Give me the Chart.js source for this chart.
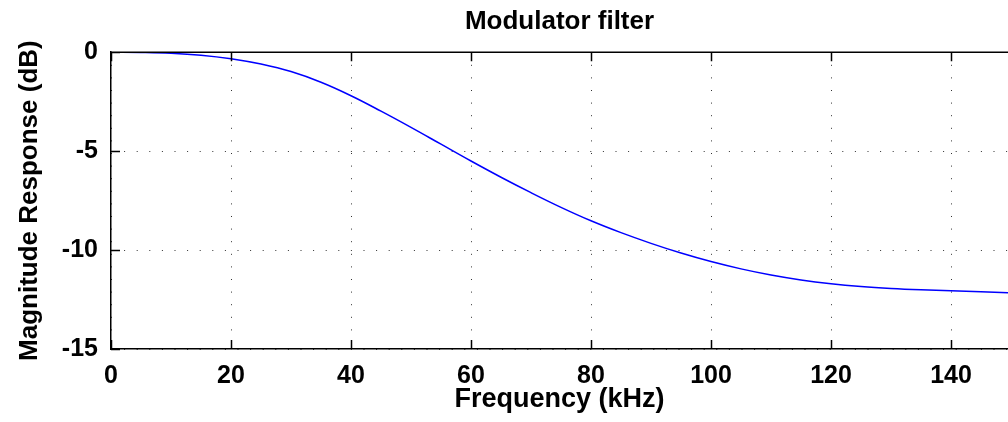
<!DOCTYPE html>
<html>
<head>
<meta charset="utf-8">
<script src="https://cdn.jsdelivr.net/npm/chart.js@4/dist/chart.umd.min.js"></script>
<style>
  html, body { margin: 0; padding: 0; background: #fff; }
  #wrap { width: 1008px; height: 422px; }
</style>
</head>
<body>
<div id="wrap"><canvas id="myChart" width="1008" height="422"></canvas></div>
<script>
// Data
const freqKHz = [0, 5, 10, 15, 20, 25, 30, 35, 40, 45, 50, 55, 60, 65, 70, 75, 80, 85, 90, 95, 100, 105, 110, 115, 120, 125, 130, 135, 140, 145, 149.5];
const magDB = [0, -0.01, -0.05, -0.15, -0.33, -0.6, -0.98, -1.52, -2.2, -2.98, -3.8, -4.65, -5.5, -6.32, -7.1, -7.84, -8.52, -9.12, -9.66, -10.15, -10.58, -10.95, -11.26, -11.51, -11.7, -11.84, -11.94, -12.01, -12.06, -12.11, -12.16];

// tick labels
const xTicks = [0, 20, 40, 60, 80, 100, 120, 140];
const yTicks = [-15, -10, -5, 0];

const fontFamily = '"Liberation Sans", Arial, Helvetica, sans-serif';

// MATLAB style box: top edge + inward tick marks
const matlabAxes = {
  id: 'matlabAxes',
  afterDatasetsDraw(chart) {
    const ctx = chart.ctx;
    const a = chart.chartArea;
    const xs = chart.scales.x, ys = chart.scales.y;
    const len = 9;
    ctx.save();
    ctx.strokeStyle = '#000';
    ctx.lineWidth = 1.5;
    ctx.beginPath();
    ctx.moveTo(a.left, a.top);
    ctx.lineTo(a.right, a.top);
    xTicks.forEach(function (v) {
      const px = Math.round(xs.getPixelForValue(v)) + 0.5;
      ctx.moveTo(px, a.top);
      ctx.lineTo(px, a.top + len);
      ctx.moveTo(px, a.bottom);
      ctx.lineTo(px, a.bottom - len);
    });
    yTicks.forEach(function (v) {
      const py = Math.round(ys.getPixelForValue(v)) + 0.5;
      ctx.moveTo(a.left, py);
      ctx.lineTo(a.left + len, py);
    });
    ctx.stroke();
    ctx.restore();
  }
};

const data = {
  datasets: [
    {
      label: 'Modulator filter',
      data: freqKHz.map(function (f, i) { return { x: f, y: magDB[i] }; }),
      borderColor: '#0000ff',
      borderWidth: 1.5,
      pointRadius: 0,
      tension: 0.4,
      fill: false
    }
  ]
};

const config = {
  type: 'line',
  data: data,
  plugins: [matlabAxes],
  options: {
    responsive: false,
    animation: false,
    layout: { padding: 0 },
    plugins: {
      legend: { display: false },
      tooltip: { enabled: false },
      title: {
        display: true,
        text: 'Modulator filter',
        fullSize: false,
        color: '#000',
        font: { family: fontFamily, size: 26, weight: 'bold' },
        padding: { top: 6, bottom: 15 }
      }
    },
    scales: {
      x: {
        type: 'linear',
        min: 0,
        max: 149.5,
        afterFit: function (s) { s.height = 73; },
        afterBuildTicks: function (s) { s.ticks = xTicks.map(function (v) { return { value: v }; }); },
        ticks: {
          color: '#000',
          padding: 12,
          maxRotation: 0,
          autoSkip: false,
          font: { family: fontFamily, size: 25, weight: 'bold' }
        },
        grid: { color: '#333', drawTicks: false, lineWidth: 1 },
        border: { color: '#000', width: 1.5, dash: [1, 11.6] },
        title: {
          display: true,
          text: 'Frequency (kHz)',
          color: '#000',
          font: { family: fontFamily, size: 27, weight: 'bold' },
          padding: { top: 0, bottom: 6 }
        }
      },
      y: {
        type: 'linear',
        min: -15,
        max: 0,
        afterFit: function (s) { s.width = 111; },
        afterBuildTicks: function (s) { s.ticks = yTicks.map(function (v) { return { value: v }; }); },
        ticks: {
          color: '#000',
          padding: 13,
          font: { family: fontFamily, size: 25, weight: 'bold' }
        },
        grid: { color: '#333', drawTicks: false, lineWidth: 1 },
        border: { color: '#000', width: 1.5, dash: [1, 11.6] },
        title: {
          display: true,
          text: 'Magnitude Response (dB)',
          color: '#000',
          font: { family: fontFamily, size: 26, weight: 'bold' },
          padding: { top: 14, bottom: 0 }
        }
      }
    }
  }
};

// Render chart in <canvas>
const myChart = new Chart(document.getElementById('myChart'), config);
</script>
</body>
</html>
